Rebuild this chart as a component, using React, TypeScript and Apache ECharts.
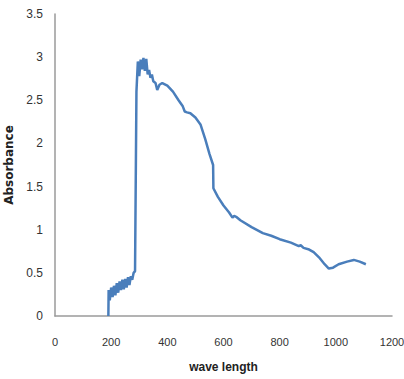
import React, { useEffect, useRef } from "react";
import * as echarts from "echarts";

// Absorption spectrum: wavelength (nm) vs absorbance
const wavelengths = [
  190, 191, 195, 200, 205, 210, 215, 220, 225, 230, 235, 240, 245, 250, 255, 260,
  265, 270, 275, 280, 285, 290, 295, 300, 305, 310, 315, 320, 325, 330, 335, 340,
  345, 350, 358, 364, 372, 382, 400, 420, 440, 455, 462, 470, 482, 500, 518, 535,
  550, 563, 564, 580, 600, 620, 632, 638, 645, 660, 700, 740, 770, 800, 840, 868,
  875, 885, 905, 921, 940, 960, 975, 990, 1010, 1040, 1064, 1085, 1107,
];
const absorbance = [
  0, 0.3, 0.18, 0.33, 0.22, 0.35, 0.24, 0.38, 0.27, 0.4, 0.3, 0.42, 0.31, 0.43, 0.33, 0.45,
  0.36, 0.46, 0.42, 0.5, 0.52, 2.6, 2.95, 2.78, 2.97, 2.86, 2.99, 2.84, 2.98, 2.8, 2.85, 2.76,
  2.8, 2.72, 2.7, 2.62, 2.68, 2.7, 2.67, 2.6, 2.5, 2.43, 2.37, 2.36, 2.35, 2.3, 2.22, 2.05,
  1.88, 1.75, 1.48, 1.38, 1.28, 1.2, 1.14, 1.16, 1.15, 1.11, 1.03, 0.96, 0.93, 0.89, 0.85, 0.81,
  0.82, 0.79, 0.77, 0.74, 0.68, 0.6, 0.55, 0.56, 0.6, 0.63, 0.65, 0.63, 0.6,
];
const xTicks = [0, 200, 400, 600, 800, 1000, 1200];
const yTicks = [0, 0.5, 1, 1.5, 2, 2.5, 3, 3.5];

export default function App() {
  const ref = useRef<HTMLDivElement>(null);

  useEffect(() => {
    if (!ref.current) return;
    const chart = echarts.init(ref.current, null, { renderer: "svg" });
    const points = wavelengths.map((w, i) => [w, absorbance[i]]);
    const font = "'Liberation Sans', Arial, sans-serif";
    chart.setOption({
      animation: false,
      backgroundColor: "#ffffff",
      grid: { left: 55, right: 12, top: 14, bottom: 63, containLabel: false, outerBoundsMode: "none" },
      xAxis: {
        type: "value",
        min: xTicks[0],
        max: xTicks[xTicks.length - 1],
        interval: 200,
        name: "wave length",
        nameLocation: "middle",
        nameGap: 45,
        nameTextStyle: { fontFamily: font, fontSize: 12, fontWeight: "bold", color: "#222" },
        axisLine: { lineStyle: { color: "#9a9a9a", width: 1.5 } },
        axisTick: { show: false },
        splitLine: { show: false },
        axisLabel: {
          fontFamily: font,
          fontSize: 11,
          color: "#333",
          margin: 20,
          formatter: (v: number) => String(v),
        },
      },
      yAxis: {
        type: "value",
        min: yTicks[0],
        max: yTicks[yTicks.length - 1],
        interval: 0.5,
        name: "Absorbance",
        nameLocation: "middle",
        nameGap: 37,
        nameTextStyle: {
          fontFamily: "'DejaVu Sans', sans-serif",
          fontSize: 12,
          fontWeight: "bold",
          color: "#222",
        },
        axisLine: { show: true, lineStyle: { color: "#9a9a9a", width: 1.5 } },
        axisTick: { show: false },
        splitLine: { show: false },
        axisLabel: { fontFamily: font, fontSize: 12, color: "#333", margin: 12 },
      },
      series: [
        {
          type: "line",
          data: points,
          showSymbol: false,
          lineStyle: { color: "#4a7ebb", width: 2.5 },
        },
      ],
    });
    return () => chart.dispose();
  }, []);

  return (
    <div
      ref={ref}
      style={{ position: "fixed", left: 0, top: 0, width: 404, height: 379 }}
    />
  );
}
